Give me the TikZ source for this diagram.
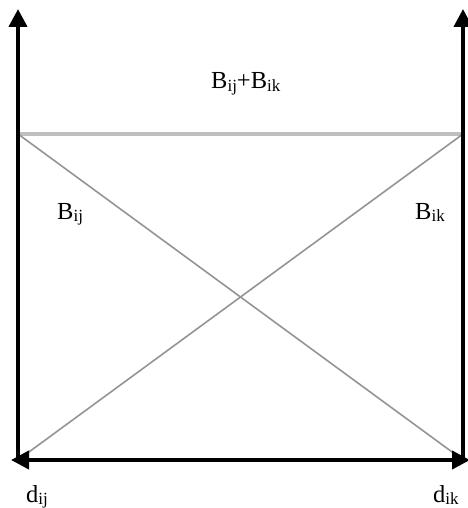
\documentclass[tikz,border=0pt]{standalone}
\usepackage{fontspec}
\setmainfont{Liberation Serif}
\usetikzlibrary{arrows.meta}
\newcommand\sbs[1]{\raisebox{-0.2ex}{\fontsize{17}{17}\selectfont #1}}
\begin{document}
\begin{tikzpicture}[x=1pt,y=-1pt,
  axis/.style={line width=4pt,-{Triangle[length=18pt,width=18pt]}},
  topline/.style={line width=4pt,color=black!25},
  diag/.style={line width=1.6pt,color=black!42},
  lbl/.style={anchor=base west,inner sep=0pt,font=\fontsize{24.5}{28}\selectfont}]
\useasboundingbox (0,0) rectangle (467,508);
\coordinate (BL) at (18,460);
\coordinate (BR) at (463,460);
\coordinate (TL) at (18,134);
\coordinate (TR) at (463,134);
\coordinate (LT) at (18,9);
\coordinate (RT) at (463,9);
\coordinate (LE) at (11,460);
\coordinate (RE) at (470,460);
\coordinate (M) at (240,460);
\draw[topline] (TL) -- (TR);
\draw[diag] (TL) -- (BR);
\draw[diag] (BL) -- (TR);
\draw[axis] ([yshift=2pt]BL) -- (LT);
\draw[axis] ([yshift=2pt]BR) -- (RT);
\draw[axis] (M) -- (LE);
\draw[axis] (M) -- (RE);
\node[lbl] (bsum) at (211,89) {B\sbs{ij}+B\sbs{ik}};
\node[lbl] (bij) at (57,219) {B\sbs{ij}};
\node[lbl] (bik) at (415,219) {B\sbs{ik}};
\node[lbl] (dij) at (26,502) {d\sbs{ij}};
\node[lbl] (dik) at (433,502) {d\sbs{ik}};
\end{tikzpicture}
\end{document}
